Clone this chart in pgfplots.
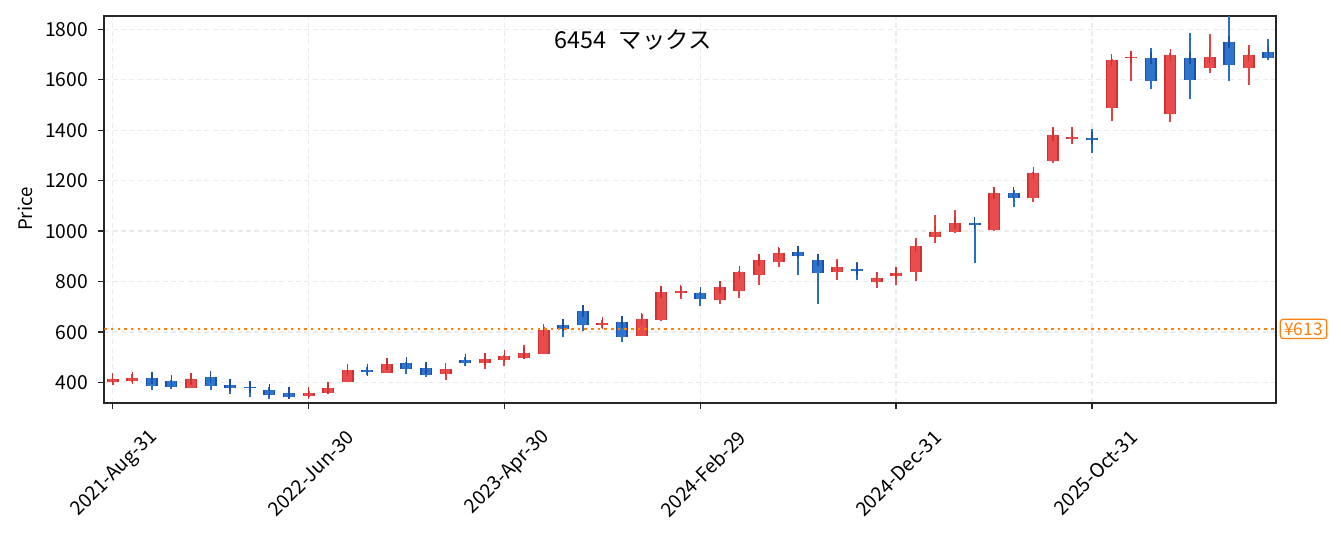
\documentclass[border=0pt]{standalone}
\usepackage{pgfplots}
\usepackage{pgfplotstable}
\pgfplotsset{compat=1.18}
\usepackage{fontspec}
\setmainfont{Noto Sans CJK JP}
\definecolor{upfill}{HTML}{E84C4C}
\definecolor{upedge}{HTML}{D03232}
\definecolor{upwick}{HTML}{E04444}
\definecolor{dnfill}{HTML}{2E76CC}
\definecolor{dnedge}{HTML}{1C50A8}
\definecolor{dnwick}{HTML}{2A6EC6}
\definecolor{lineorange}{HTML}{FF7F0E}
\definecolor{gridgray}{HTML}{EBEBEB}
\definecolor{axgray}{HTML}{262626}

% monthly candles, i = months since 2021-Aug ; up = close > open
\pgfplotstableread{
i O H L C
0 403 416 390 414
1 407 436 401 420
4 380 414 379 413
10 347 368 345 358
11 358 384 355 378
12 403 452 402 450
14 439 476 438 475
17 436 456 412 455
19 479 504 456 492
20 490 508 465 504
21 497 548 494 518
22 514 619 513 608
25 630 650 616 638
27 585 673 584 652
28 650 760 646 759
29 757 784 730 764
31 728 780 710 779
32 763 844 737 840
33 827 888 787 887
34 878 932 860 915
37 838 890 808 857
39 799 838 776 816
40 823 836 788 835
41 837 972 803 943
42 976 1064 955 995
43 995 1084 994 1033
45 1004 1168 999 1150
47 1130 1233 1116 1232
48 1280 1413 1271 1383
49 1364 1413 1347 1374
51 1487 1682 1436 1680
52 1685 1703 1596 1690
54 1463 1707 1432 1700
56 1645 1783 1628 1692
58 1645 1739 1579 1700
}\updata

\pgfplotstableread{
i O H L C
2 417 418 373 388
3 405 411 377 384
5 421 422 373 387
6 389 390 357 379
7 382 382 343 380
8 373 381 337 352
9 358 360 340 345
13 452 461 430 444
15 479 481 433 456
16 459 461 423 431
18 488 500 465 480
23 629 638 580 614
24 684 685 604 629
26 640 641 560 581
30 755 760 702 732
35 919 925 828 902
36 888 894 712 834
38 852 878 808 842
44 1033 1034 875 1025
46 1150 1163 1097 1131
50 1368 1405 1311 1360
53 1688 1727 1563 1595
55 1688 1787 1524 1601
57 1748 1851 1596 1657
59 1708 1763 1680 1687
}\dndata

\begin{document}
\begin{tikzpicture}
\useasboundingbox (-78.2pt,-97pt) rectangle (927.5pt,302pt);
\begin{axis}[
  at={(0,0)}, anchor=south west,
  scale only axis,
  width=878.55pt, height=290.25pt,
  xmin=-0.43, xmax=59.38,
  ymin=320.8, ymax=1853.9,
  xtick={0,10,20,30,40,50},
  xticklabels={2021-Aug-31,2022-Jun-30,2023-Apr-30,2024-Feb-29,2024-Dec-31,2025-Oct-31},
  ytick={400,600,800,1000,1200,1400,1600,1800},
  tick align=outside, tick pos=left,
  major tick length=4.5pt,
  tick style={axgray, line width=1.1pt},
  axis line style={axgray, line width=1.5pt},
  grid=major,
  major grid style={gridgray, line width=1.1pt, dash pattern=on 3.75pt off 2.5pt},
  yticklabel style={font=\fontsize{14.5}{16}\selectfont, inner sep=0pt, xshift=-7.5pt},
  xticklabel style={font=\fontsize{14.5}{16}\selectfont, rotate=45, anchor=east, inner sep=0pt, xshift=8.8pt, yshift=-35.8pt},
  /pgf/number format/assume math mode=true,
  /pgf/number format/1000 sep={},
  ylabel={Price},
  every axis y label/.style={at={([xshift=-59.5pt]axis description cs:0,0.5)}, rotate=90, anchor=center, font=\fontsize{14}{16}\selectfont},
  clip mode=individual,
]
% wicks
\addplot[draw=none, mark=none, forget plot,
  error bars/.cd, y dir=plus, y explicit, error mark=none,
  error bar style={draw=upwick, solid, line width=1.5pt}]
  table[x=i, y=L, y error expr=\thisrow{H}-\thisrow{L}] {\updata};
\addplot[draw=none, mark=none, forget plot,
  error bars/.cd, y dir=plus, y explicit, error mark=none,
  error bar style={draw=dnwick, solid, line width=1.5pt}]
  table[x=i, y=L, y error expr=\thisrow{H}-\thisrow{L}] {\dndata};
% bodies: up
\addplot[draw=none, mark=none, forget plot,
  error bars/.cd, y dir=plus, y explicit, error mark=none,
  error bar style={draw=upedge, solid, line width=9pt}]
  table[x=i, y expr={min(\thisrow{O},\thisrow{C})}, y error expr={abs(\thisrow{C}-\thisrow{O})}] {\updata};
\addplot[draw=none, mark=none, forget plot,
  error bars/.cd, y dir=plus, y explicit, error mark=-,
  error bar style={draw=upfill, solid, line width=6.8pt},
  error mark options={draw=upedge, solid, line width=1.1pt, mark size=4.5pt}]
  table[x=i, y expr={min(\thisrow{O},\thisrow{C})}, y error expr={abs(\thisrow{C}-\thisrow{O})}] {\updata};
% bodies: down
\addplot[draw=none, mark=none, forget plot,
  error bars/.cd, y dir=plus, y explicit, error mark=none,
  error bar style={draw=dnedge, solid, line width=9pt}]
  table[x=i, y expr={min(\thisrow{O},\thisrow{C})}, y error expr={abs(\thisrow{C}-\thisrow{O})}] {\dndata};
\addplot[draw=none, mark=none, forget plot,
  error bars/.cd, y dir=plus, y explicit, error mark=-,
  error bar style={draw=dnfill, solid, line width=6.8pt},
  error mark options={draw=dnedge, solid, line width=1.1pt, mark size=4.5pt}]
  table[x=i, y expr={min(\thisrow{O},\thisrow{C})}, y error expr={abs(\thisrow{C}-\thisrow{O})}] {\dndata};
% reference price line
\addplot[lineorange, line width=1.9pt, dash pattern=on 1.9pt off 3.1pt, forget plot]
  coordinates {(-0.43,613) (59.38,613)};
\node[font=\fontsize{17.5}{20}\selectfont, anchor=center] at (axis description cs:0.4513,0.937) {6454\hspace{0.55em}マックス};
\node[draw=lineorange, text=lineorange, fill=white, rounded corners=2pt, line width=0.9pt,
  font=\fontsize{13}{14}\selectfont, inner xsep=3pt, inner ysep=2.4pt, anchor=west, xshift=3pt]
  at (axis cs:59.38,613) {¥613};
\end{axis}
\end{tikzpicture}
\end{document}
